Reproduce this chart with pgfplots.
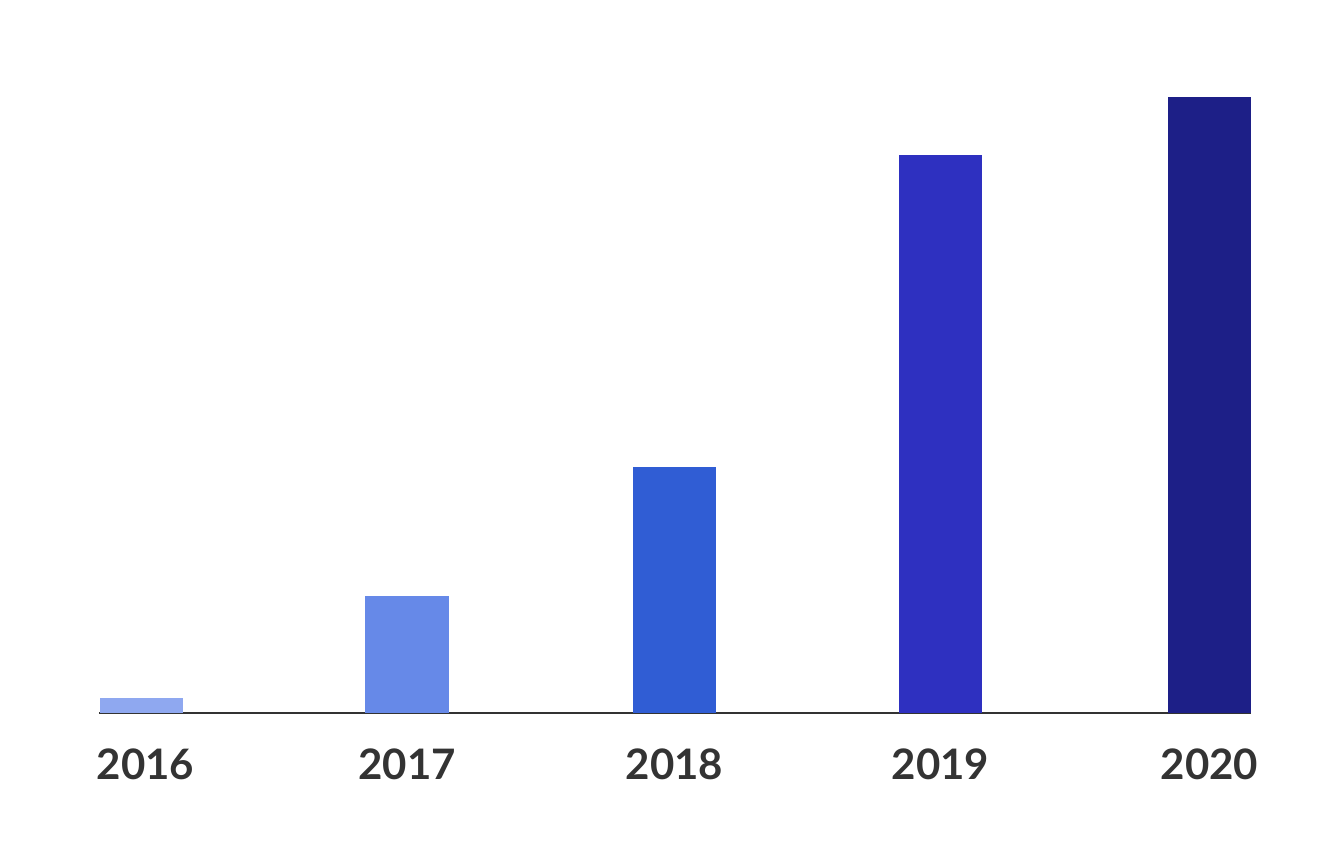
\documentclass[border=0pt]{standalone}
\usepackage{pgfplots}
\pgfplotsset{compat=1.18}
\usepackage{fontspec}
\setmainfont{Lato}
\definecolor{cA}{RGB}{143,168,240}
\definecolor{cB}{RGB}{102,137,232}
\definecolor{cC}{RGB}{48,93,212}
\definecolor{cD}{RGB}{46,48,192}
\definecolor{cE}{RGB}{29,31,135}
\definecolor{txt}{RGB}{51,51,51}
\begin{document}
\begin{tikzpicture}[x=1pt,y=1pt]
\useasboundingbox (0,0) rectangle (669.5,423.5);
\begin{axis}[
  at={(49.5pt,67pt)}, anchor=south west,
  scale only axis, width=576pt, height=308pt,
  xmin=0, xmax=1152, ymin=0, ymax=616,
  axis x line*=bottom, axis y line=none,
  x axis line style={-, draw=txt, line width=1pt},
  xtick={42.5,308,575.5,841.5,1110.5},
  xticklabels={\hspace*{4pt}2016,2017,2018,2019,2020},
  major tick length=0pt,
  ytick=\empty,
  xticklabel style={anchor=north, inner sep=0pt, yshift=-17.5pt, font=\fontsize{21}{24}\selectfont\bfseries, text=txt},
  clip=false,
]
\addplot[ybar, bar shift=0pt, bar width=41.75pt, fill=cA, draw=none] coordinates {(42.5,15)};
\addplot[ybar, bar shift=0pt, bar width=41.75pt, fill=cB, draw=none] coordinates {(308,117)};
\addplot[ybar, bar shift=0pt, bar width=41.75pt, fill=cC, draw=none] coordinates {(575.5,246)};
\addplot[ybar, bar shift=0pt, bar width=41.75pt, fill=cD, draw=none] coordinates {(841.5,558)};
\addplot[ybar, bar shift=0pt, bar width=41.75pt, fill=cE, draw=none] coordinates {(1110.5,616)};
\end{axis}
\end{tikzpicture}
\end{document}
